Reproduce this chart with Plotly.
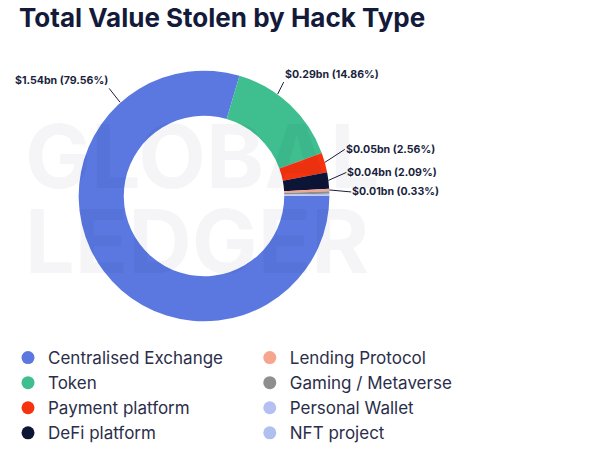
import math
import plotly.graph_objects as go

# hack types, in slice order (clockwise from 3 o'clock)
hack_types = ['Centralised Exchange', 'Token', 'Payment platform', 'DeFi platform',
              'Lending Protocol', 'Gaming / Metaverse', 'Personal Wallet', 'NFT project']
share_pct = [79.56, 14.86, 2.56, 2.09, 0.33, 0.30, 0.20, 0.10]
value_bn = [1.54, 0.29, 0.05, 0.04, 0.01, None, None, None]
colors = ['#5a78e0', '#3fbf8f', '#f5330f', '#0c1535',
          '#f6a58e', '#8e8e8e', '#b4bff2', '#b0c0ee']

# page has an 8px body margin, so the figure is a bit smaller than the window
OFF = 8
W, H = 600 - OFF, 455 - OFF
CX, CY, R = 202, 196, 126   # donut centre / radius in window px


def px_x(x):
    return (x - OFF) / W


def px_y(y):
    return 1 - (y - OFF) / H


fig = go.Figure()

fig.add_trace(go.Pie(
    labels=hack_types, values=share_pct, sort=False, direction='clockwise', rotation=90,
    hole=0.64, marker=dict(colors=colors, line=dict(width=0)), textinfo='none',
    hoverinfo='label+percent', showlegend=False,
    domain=dict(x=[px_x(CX - R), px_x(CX + R)], y=[px_y(CY + R), px_y(CY - R)]),
))

# legend built from dummy traces so it reads in two columns
for i, (name, c) in enumerate(zip(hack_types, colors)):
    fig.add_trace(go.Scatter(x=[None], y=[None], mode='markers', name=name,
                             marker=dict(color=c, size=13, symbol='circle'),
                             legend='legend' if i < 4 else 'legend2', legendgroup=name))

# labels with leader lines
# tip angle override for the two big slices (where the original puts them)
tip_override = {0: 132, 1: 54}
label_off = [(-11, -14, 'right', 'bottom'), (6, -12, 'left', 'bottom'),
             (20, -13, 'left', 'middle'), (18, -8, 'left', 'middle'), (22, 2, 'left', 'middle')]
total = sum(share_pct)
cum = 0
for i, (v, s) in enumerate(zip(value_bn, share_pct)):
    mid = cum + s / 2
    cum += s
    if v is None:
        continue
    ang = tip_override.get(i, -360 * mid / total)
    tx = CX + R * math.cos(math.radians(ang))
    ty = CY - R * math.sin(math.radians(ang))
    ax, ay, xa, ya = label_off[i]
    fig.add_annotation(x=px_x(tx), y=px_y(ty), xref='paper', yref='paper',
                       text='$%.2fbn (%.2f%%)' % (v, s), showarrow=True, arrowhead=0,
                       arrowwidth=1, arrowcolor='#1a1f3d', ax=ax, ay=ay,
                       xanchor=xa, yanchor=ya, borderpad=0,
                       font=dict(family='Inter', size=10.6, color='#1a1f3d', weight='bold'))

# faint watermark
for word, y in [('GLOBAL', 156), ('LEDGER', 241)]:
    fig.add_annotation(x=px_x(20), y=px_y(y), xref='paper', yref='paper', text=word,
                       showarrow=False, xanchor='left', yanchor='middle',
                       font=dict(family='Inter', size=88, color='rgba(0,0,40,0.04)', weight='bold'))

fig.update_layout(
    width=W, height=H, margin=dict(l=0, r=0, t=0, b=0),
    paper_bgcolor='white', plot_bgcolor='white',
    title=dict(text='<b>Total Value Stolen by Hack Type</b>', x=px_x(19), xanchor='left',
               y=px_y(9), yanchor='top',
               font=dict(family='Inter', size=26, color='#131a3a')),
    xaxis=dict(visible=False), yaxis=dict(visible=False),
    legend=dict(x=px_x(5), y=px_y(340), xanchor='left', yanchor='top', tracegroupgap=0,
                font=dict(family='Inter', size=17, color='#2b2e4a'), bgcolor='rgba(0,0,0,0)'),
    legend2=dict(x=px_x(248), y=px_y(340), xanchor='left', yanchor='top', tracegroupgap=0,
                 font=dict(family='Inter', size=17, color='#2b2e4a'), bgcolor='rgba(0,0,0,0)'),
)

fig.write_html("out.html")
